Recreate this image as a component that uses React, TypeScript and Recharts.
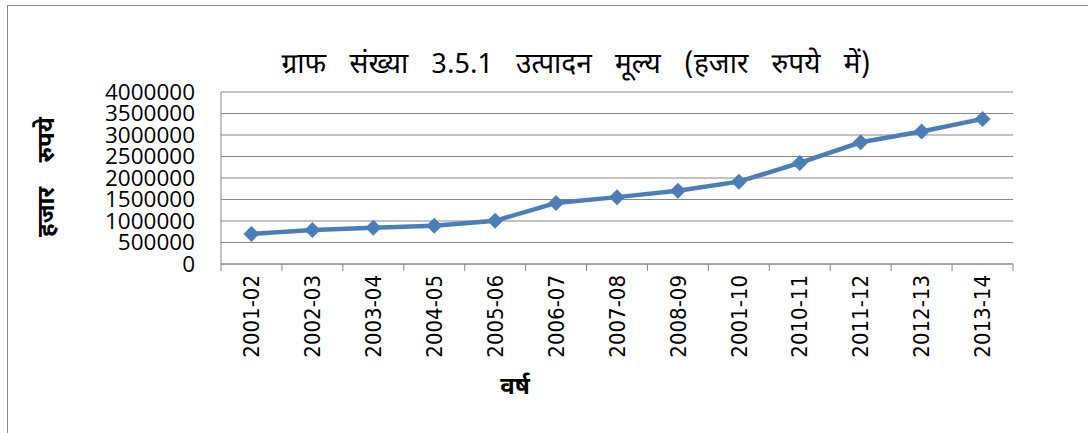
import React from "react";
import { LineChart, Line, XAxis, YAxis, CartesianGrid } from "recharts";

// values (thousand rupees)
const years = [
  "2001-02",
  "2002-03",
  "2003-04",
  "2004-05",
  "2005-06",
  "2006-07",
  "2007-08",
  "2008-09",
  "2001-10",
  "2010-11",
  "2011-12",
  "2012-13",
  "2013-14",
];
const outputValue = [
  700000, 790000, 845000, 890000, 1005000, 1420000, 1555000, 1705000, 1915000,
  2350000, 2830000, 3080000, 3375000,
];
const yTicks = [0, 500000, 1000000, 1500000, 2000000, 2500000, 3000000, 3500000, 4000000];

const chartTitle = "ग्राफ संख्या 3.5.1 उत्पादन मूल्य (हजार रुपये में)";
const yTitle = "हजार रुपये";
const xTitle = "वर्ष";

const data = years.map((year, i) => ({ year, value: outputValue[i] }));

const W = 1088;
const H = 433;
const PLOT_LEFT = 221;
const PLOT_RIGHT = 1013;
const PLOT_TOP = 92;
const PLOT_BOTTOM = 264;
const HALF_BAND = (PLOT_RIGHT - PLOT_LEFT) / years.length / 2;
const TICK_LEN = 7;
const TICK_GAP = 4;

const BLUE = "#4A7EBB";
const GRID = "#868686";
const DEVA = "'Noto Sans Devanagari', 'Noto Sans', 'Lohit Devanagari', sans-serif";

function YearTick(props: any) {
  const { x, y, payload, index } = props;
  const top = y - TICK_GAP - TICK_LEN;
  return (
    <g>
      <line x1={x - HALF_BAND} x2={x - HALF_BAND} y1={top} y2={top + TICK_LEN} stroke={GRID} />
      {index === years.length - 1 && (
        <line x1={x + HALF_BAND} x2={x + HALF_BAND} y1={top} y2={top + TICK_LEN} stroke={GRID} />
      )}
      <g transform={`translate(${x},${y})`}>
        <text
          transform="rotate(-90)"
          textAnchor="end"
          dy="0.35em"
          fontSize={22}
          fontFamily="'DejaVu Sans Condensed', 'DejaVu Sans', sans-serif"
          fill="#000"
        >
          {payload.value}
        </text>
      </g>
    </g>
  );
}

function Diamond(props: any) {
  const { cx, cy } = props;
  if (cx == null || cy == null) return null;
  const r = 8;
  return (
    <polygon
      points={`${cx},${cy - r} ${cx + r},${cy} ${cx},${cy + r} ${cx - r},${cy}`}
      fill={BLUE}
    />
  );
}

export default function App() {
  return (
    <div
      style={{
        position: "absolute",
        left: 0,
        top: 0,
        width: W,
        height: H,
        overflow: "hidden",
        background: "#fff",
      }}
    >
      <div
        style={{
          position: "absolute",
          left: 7,
          top: 5,
          width: 1200,
          height: 600,
          border: "1px solid #8a8a8a",
        }}
      />
      <LineChart
        width={W}
        height={H}
        data={data}
        margin={{ top: PLOT_TOP, right: W - PLOT_RIGHT, bottom: 0, left: 0 }}
      >
        <CartesianGrid vertical={false} stroke={GRID} />
        <XAxis
          dataKey="year"
          height={H - PLOT_BOTTOM}
          interval={0}
          padding={{ left: HALF_BAND, right: HALF_BAND }}
          tickLine={false}
          tickSize={TICK_LEN}
          tickMargin={TICK_GAP}
          axisLine={{ stroke: GRID }}
          tick={<YearTick />}
        />
        <YAxis
          width={PLOT_LEFT}
          domain={[0, 4000000]}
          ticks={yTicks}
          interval={0}
          tickLine={false}
          tickSize={0}
          tickMargin={26}
          axisLine={{ stroke: GRID }}
          tick={{ fill: "#000", fontSize: 22.5, fontFamily: "'Open Sans', sans-serif" }}
        />
        <Line
          type="linear"
          dataKey="value"
          stroke={BLUE}
          strokeWidth={4.5}
          dot={<Diamond />}
          activeDot={false}
          isAnimationActive={false}
        />
      </LineChart>
      <svg
        width={W}
        height={H}
        style={{ position: "absolute", left: 0, top: 0, pointerEvents: "none" }}
      >
        <text
          x={576}
          y={73}
          textAnchor="middle"
          fontSize={28}
          fontFamily={DEVA}
          style={{ wordSpacing: "16px" }}
          fill="#000"
        >
          {chartTitle}
        </text>
        <g transform="translate(46,177)">
          <text
            transform="rotate(-90)"
            textAnchor="middle"
            dy="0.35em"
            fontSize={24}
            fontWeight="bold"
            fontFamily={DEVA}
            style={{ wordSpacing: "18px" }}
            fill="#000"
          >
            {yTitle}
          </text>
        </g>
        <text
          x={515}
          y={386}
          textAnchor="middle"
          dy="0.35em"
          fontSize={24}
          fontWeight="bold"
          fontFamily={DEVA}
          fill="#000"
        >
          {xTitle}
        </text>
      </svg>
    </div>
  );
}
